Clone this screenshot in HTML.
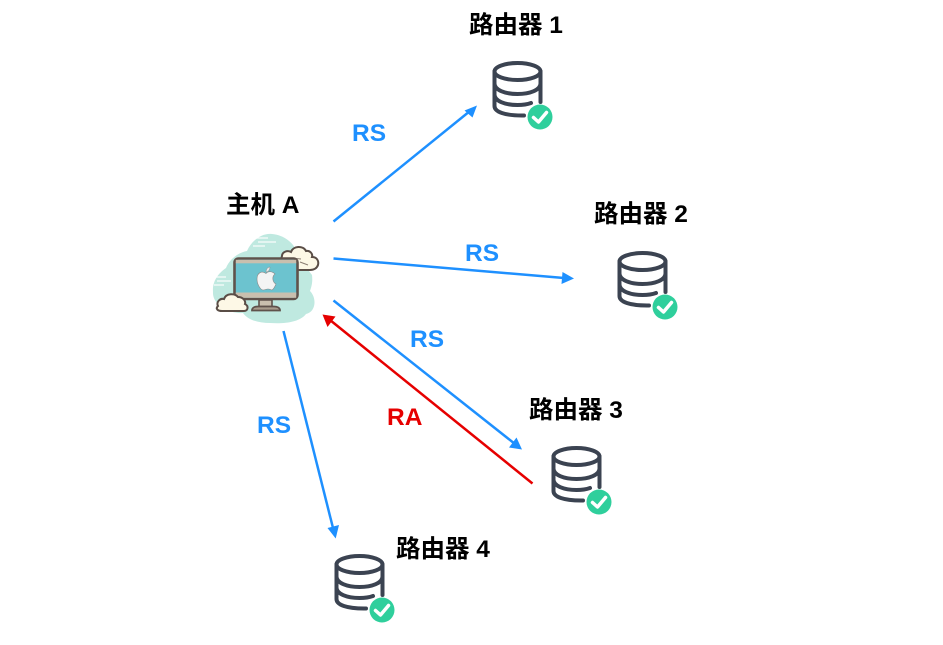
<!DOCTYPE html>
<html><head><meta charset="utf-8">
<style>
html,body{margin:0;padding:0;background:#fff}
svg{display:block}
text{font-family:"Liberation Sans","Noto Sans CJK SC",sans-serif;font-weight:700;font-size:24.5px}
</style></head>
<body>
<svg width="943" height="645" viewBox="0 0 943 645" xmlns="http://www.w3.org/2000/svg">
<defs>
<g id="db">
<g fill="none" stroke="#3b4351" stroke-width="4" stroke-linecap="round">
<ellipse cx="517.5" cy="71.5" rx="23" ry="8.5"/>
<path d="M494.5 71.5V106C494.5 112 505 115.500 522 115.500H524"/>
<path d="M540.500 71.500V102"/>
<path d="M494.500 83.500C494.500 90 505 94 517.500 94S540.500 90 540.500 83.500"/>
<path d="M494.500 94.500C494.500 101 505 105 517.500 105C522 105 527 104.500 531 103"/>
</g>
<circle cx="540" cy="117" r="12.500" fill="#2fcf9c"/>
<path d="M533.500 117.500L538.500 122L546.500 112.500" fill="none" stroke="#fff" stroke-width="3.500" stroke-linecap="round" stroke-linejoin="round"/>
</g>
</defs>

<!-- host icon -->
<path d="M213 292C212 280 220 272 226 268C230 258 240 252 247 251C252 240 262 233 272 234C284 235 296 243 299 258L312 275C313 283 311 288 310 291C317 298 316 312 306 314C300 322 285 324 270 323C258 323 248 320 243 313C230 314 212 305 213 292Z" fill="#bfe9e0"/>
<g stroke="#fff" stroke-width="1.300" opacity=".9">
<path d="M255 238H268M258 242H276M253 246H265"/>
<path d="M214 277H226M217 281H231M214 285H224"/>
</g>
<path d="M282 256C282 252 287 250 291 252C293 246 303 245 306 251C310 250 313 254 312 257C317 257 319 261 318 265C317 268 314 270 310 270H290C284 270 280 261 282 256Z" fill="#fdf8e6" stroke="#5a4d46" stroke-width="2"/>
<path d="M296 258.500L301 259M300 262L308 265" stroke="#8a7d72" stroke-width="1" fill="none"/>
<rect x="234.500" y="258.500" width="63" height="40.500" rx="4" fill="#6cc3cf" stroke="#5f524b" stroke-width="2.600"/>
<rect x="235.800" y="259.800" width="60.400" height="3.500" fill="#c9bfae"/>
<rect x="235.800" y="292.500" width="60.400" height="5.300" fill="#c9bfae"/>
<path d="M259 300H272V306.500H259Z" fill="#c9bfae" stroke="#5f524b" stroke-width="1.600"/>
<path d="M252 310.500C252 307.500 255 306.500 258 306.500H274C277 306.500 280 307.500 280 310.500Z" fill="#a89c8c" stroke="#5f524b" stroke-width="1.800"/>
<path d="M266 273.500C262 270.500 257 272.500 257 279C257 285 261 290 263 290C265 290 266 289 268 289C270 289 271 290 272 290C274 289 275 286 276 284C272 282 272 276 275 274C272 271 268 271 266 273.500Z" fill="#f4f4f4" stroke="#888" stroke-width=".6"/>
<path d="M266 272C266 269 268 267 270 267C270 270 268 272 266 272Z" fill="#e8e8e8" stroke="#888" stroke-width=".5"/>
<path d="M218 306C216 302 220 298 224 299C226 293 235 293 238 297C243 297 246 301 245 304C249 306 248 311 244 311H222C218 311 215 309 218 306Z" fill="#fdf8e6" stroke="#5a4d46" stroke-width="2"/>

<!-- routers -->
<use href="#db"/>
<use href="#db" transform="translate(125,190)"/>
<use href="#db" transform="translate(59,385)"/>
<use href="#db" transform="translate(-158,493)"/>

<!-- blue arrows -->
<g stroke="#1e90ff" stroke-width="2.500" fill="none">
<path d="M333.500 221.500L470 111"/>
<path d="M333.500 258.500L564 278"/>
<path d="M333.500 300.500L515 444"/>
<path d="M283.500 331L333 528"/>
</g>
<g fill="#1e90ff">
<path d="M477 105.500L472.500 117.500L464.500 110.500Z"/>
<path d="M574 278.500L561.500 284L562.500 272Z"/>
<path d="M522 449.500L509 447.500L516.500 437.500Z"/>
<path d="M335.700 538.500L327.500 528L339 525Z"/>
</g>
<!-- red arrow -->
<path d="M532.500 483.500L330 320" stroke="#e60000" stroke-width="2.500" fill="none"/>
<path d="M322.500 314.500L335.500 316.500L327.500 327Z" fill="#e60000"/>

<!-- labels -->
<g fill="#000">
<text x="469" y="33">路由器 1</text>
<text x="594" y="222">路由器 2</text>
<text x="529" y="418">路由器 3</text>
<text x="396" y="557">路由器 4</text>
<text x="226" y="213">主机 A</text>
</g>
<g fill="#1e90ff">
<text x="352" y="141">RS</text>
<text x="465" y="261">RS</text>
<text x="410" y="347">RS</text>
<text x="257" y="433">RS</text>
</g>
<text x="387" y="425" fill="#e60000">RA</text>
</svg>
</body></html>
